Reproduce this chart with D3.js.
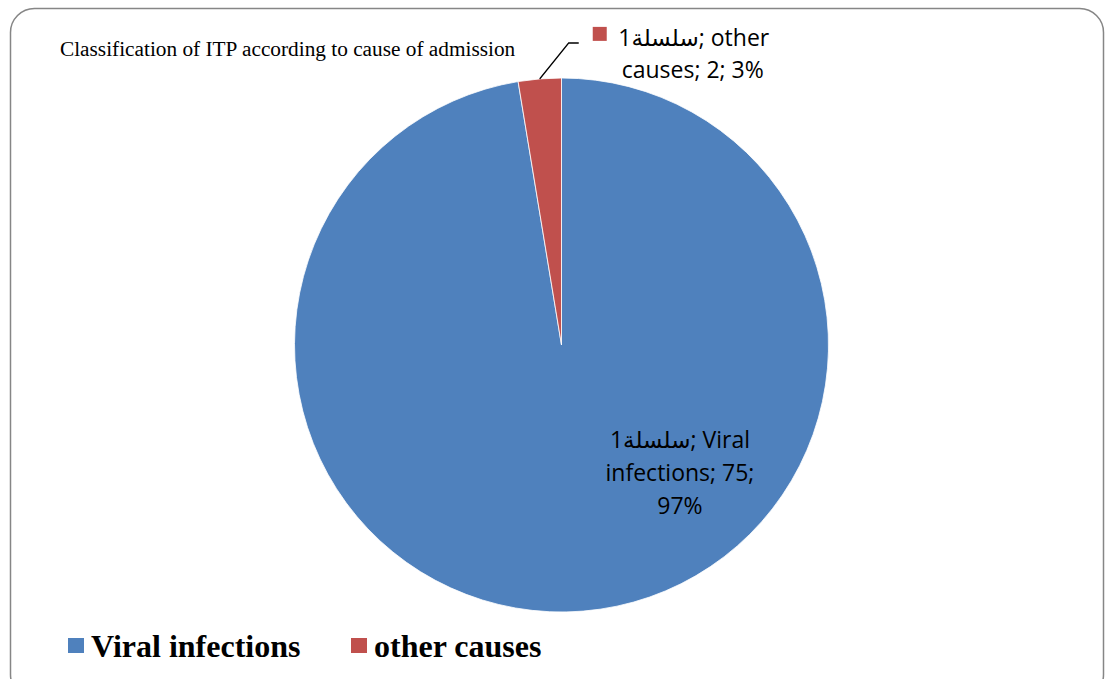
<!DOCTYPE html>
<html>
<head>
<meta charset="utf-8">
<script src="https://cdn.jsdelivr.net/npm/d3@7"></script>
<style>
  body { margin: 0; background: #fff; }
</style>
</head>
<body>
<div id="chart"></div>
<script>
// chart data
const seriesName = 'سلسلة1';
const categories = ['Viral infections', 'other causes'];
const values = [75, 2];
const percents = ['97%', '3%'];
const colors = ['#4F81BD', '#C0504D'];
const title = 'Classification of ITP according to cause of admission';

const W = 1106, H = 679;

const svg = d3.select('#chart')
    .append('svg')
    .attr('width', W)
    .attr('height', H);

// chart area border
svg.append('rect')
    .attr('x', 10.5)
    .attr('y', 8.5)
    .attr('width', 1093)
    .attr('height', 690)
    .attr('rx', 24)
    .attr('fill', '#fff')
    .attr('stroke', '#868686')
    .attr('stroke-width', 1.5);

// title
svg.append('text')
    .attr('x', 60)
    .attr('y', 56)
    .style('font-family', '"Liberation Serif", "Times New Roman", serif')
    .style('font-size', '21.3px')
    .attr('fill', '#000')
    .text(title);

const cx = 561.5, cy = 345, r = 267;

const pie = d3.pie().sort(null).value(d => d);
const arcs = pie(values);

const arc = d3.arc().innerRadius(0).outerRadius(r);

const g = svg.append('g')
    .attr('transform', `translate(${cx}, ${cy})`);

g.selectAll('path.slice')
    .data(arcs)
    .enter()
    .append('path')
    .attr('class', 'slice')
    .attr('d', arc)
    .attr('fill', (d, i) => colors[i])
    .attr('stroke', '#fff')
    .attr('stroke-width', 0.8);

const labelFont = '"Open Sans", "DejaVu Sans", sans-serif';
const labelSize = '23px';

// label inside the big slice
const ang = arcs[0].startAngle + (arcs[0].endAngle - arcs[0].startAngle) * 0.3935;
const lp = [Math.sin(ang) * 177, -Math.cos(ang) * 177];

const lab0 = g.append('text')
    .attr('text-anchor', 'middle')
    .style('font-family', labelFont)
    .style('font-size', labelSize)
    .attr('fill', '#000');
[`${seriesName}; Viral`, `infections; ${values[0]};`, percents[0]].forEach((t, i) => {
    lab0.append('tspan')
        .attr('x', lp[0])
        .attr('y', lp[1] - 28.5 + i * 33)
        .text(t);
});

// leader line and label for small slice
const a1 = (arcs[1].startAngle + arcs[1].endAngle) / 2;
const p0 = [Math.sin(a1) * r, -Math.cos(a1) * r];
const p1 = [p0[0] + 29, p0[1] - 36];
const p2 = [p1[0] + 10, p1[1]];

g.append('polyline')
    .attr('points', [p0, p1, p2].map(p => p.join(',')).join(' '))
    .attr('fill', 'none')
    .attr('stroke', '#000')
    .attr('stroke-width', 1.5);

g.append('rect')
    .attr('x', p2[0] + 14)
    .attr('y', p2[1] - 16)
    .attr('width', 14)
    .attr('height', 14)
    .attr('fill', colors[1]);

const lab1 = g.append('text')
    .attr('text-anchor', 'middle')
    .style('font-family', labelFont)
    .style('font-size', labelSize)
    .attr('fill', '#000');
lab1.append('tspan')
    .attr('x', p2[0] + 115)
    .attr('y', p2[1] + 3)
    .text(`${seriesName}; other`);
lab1.append('tspan')
    .attr('x', p2[0] + 114)
    .attr('y', p2[1] + 35)
    .text(`causes; ${values[1]}; ${percents[1]}`);

// legend
const legendX = [68, 351];
const legend = svg.append('g');
categories.forEach((c, i) => {
    legend.append('rect')
        .attr('x', legendX[i])
        .attr('y', 638)
        .attr('width', 16)
        .attr('height', 15)
        .attr('fill', colors[i]);
    legend.append('text')
        .attr('x', legendX[i] + 23)
        .attr('y', 657)
        .style('font-family', '"Liberation Serif", "Times New Roman", serif')
        .style('font-weight', 'bold')
        .style('font-size', '32px')
        .attr('fill', '#000')
        .text(c);
});
</script>
</body>
</html>
